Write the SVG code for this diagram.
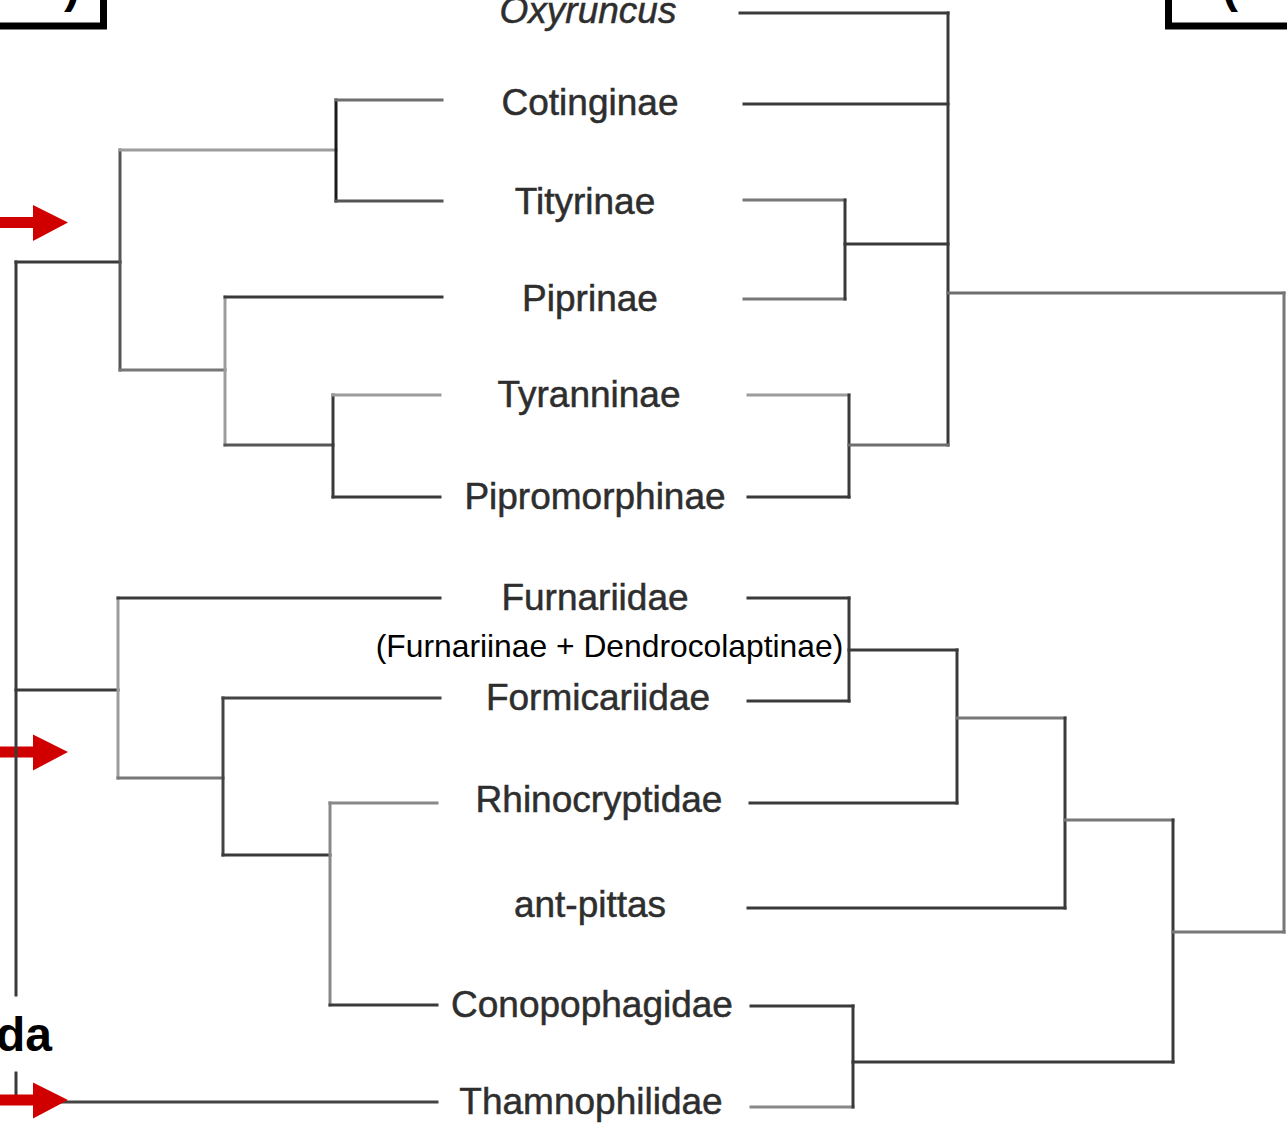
<svg xmlns="http://www.w3.org/2000/svg" xmlns:xlink="http://www.w3.org/1999/xlink" width="1287" height="1124" viewBox="0 0 1287 1124">
<style>
.bg{fill:#ffffff}
.box{fill:none;stroke:#000;stroke-width:7}
.big{font-family:"Liberation Sans",Arial,sans-serif;font-weight:bold;font-size:48px;fill:#000}
.lbl{font-family:"Liberation Sans",Arial,sans-serif;font-size:37px;fill:#2e2e2e;stroke:#2e2e2e;stroke-width:0.5;text-anchor:middle}
.it{font-style:italic}
.sub{font-family:"Liberation Sans",Arial,sans-serif;font-size:31.8px;fill:#000;text-anchor:middle}
.e{fill:none;stroke-width:3;stroke-linecap:square}
.d{stroke:#3a3a3a}
.m{stroke:#6e6e6e}
.l{stroke:#9c9c9c}
.arrow{fill:#d00000}
</style>
<defs>
<path id="arr" d="M-2,-5.5 H33 V-17.5 L68,0 L33,18.5 V5.5 H-2 Z"/>
</defs>
<rect class="bg" x="0" y="0" width="1287" height="1124"/>

<g id="frame-left">
<path class="box" d="M-5,26 H103.5 V-5"/>
<text class="big" x="80" y="2" text-anchor="end">)</text>
</g>
<g id="frame-right">
<path class="box" d="M1292,26 H1168.5 V-5"/>
<text class="big" x="1222" y="2">(</text>
</g>
<g id="title-da">
<text class="big" x="52" y="1051" text-anchor="end">da</text>
</g>

<g id="arrows-back" class="arrow">
<use href="#arr" xlink:href="#arr" transform="translate(0,222.5)"/>
<use href="#arr" xlink:href="#arr" transform="translate(0,752)"/>
</g>

<g id="connectors">
<!-- left tree -->
<path class="e d" d="M16,262 V995"/>
<path class="e d" d="M16,1073 V1102"/>
<path class="e d" d="M16,262 H120"/>
<path class="e" stroke="#555" d="M120,150 V370"/>
<path class="e l" d="M120,150 H336"/>
<path class="e" stroke="#1a1a1a" d="M336,100 V201"/>
<path class="e m" d="M336,100 H442"/>
<path class="e" stroke="#555" d="M336,201 H442"/>
<path class="e" stroke="#777" d="M120,370 H225"/>
<path class="e l" d="M225,297 V445"/>
<path class="e d" d="M225,297 H442"/>
<path class="e" stroke="#555" d="M225,445 H333"/>
<path class="e d" d="M333,395 V497"/>
<path class="e l" d="M333,395 H440"/>
<path class="e d" d="M333,497 H440"/>
<path class="e d" d="M16,690 H118"/>
<path class="e l" d="M118,598 V778"/>
<path class="e d" d="M118,598 H440"/>
<path class="e" stroke="#777" d="M118,778 H223"/>
<path class="e" stroke="#444" d="M223,698 V855"/>
<path class="e" stroke="#444" d="M223,698 H440"/>
<path class="e d" d="M223,855 H330"/>
<path class="e" stroke="#888" d="M330,803 V1005"/>
<path class="e" stroke="#888" d="M330,803 H437"/>
<path class="e d" d="M330,1005 H437"/>
<path class="e" stroke="#444" d="M16,1102 H437"/>
<!-- right tree -->
<path class="e d" d="M740,13 H948"/>
<path class="e d" d="M744,104 H948"/>
<path class="e d" d="M948,13 V445"/>
<path class="e" stroke="#777" d="M744,200 H845"/>
<path class="e" stroke="#777" d="M744,299 H845"/>
<path class="e d" d="M845,200 V299"/>
<path class="e d" d="M845,244 H948"/>
<path class="e m" d="M948,293 H1284"/>
<path class="e" stroke="#777" d="M1284,293 V932"/>
<path class="e l" d="M748,395 H849"/>
<path class="e d" d="M748,497 H849"/>
<path class="e d" d="M849,395 V497"/>
<path class="e m" d="M849,445 H948"/>
<path class="e d" d="M748,598 H849"/>
<path class="e d" d="M748,701 H849"/>
<path class="e d" d="M849,598 V701"/>
<path class="e d" d="M849,650 H957"/>
<path class="e d" d="M957,650 V803"/>
<path class="e d" d="M750,803 H957"/>
<path class="e" stroke="#777" d="M957,718 H1065"/>
<path class="e d" d="M1065,718 V908"/>
<path class="e d" d="M748,908 H1065"/>
<path class="e" stroke="#777" d="M1065,820 H1173"/>
<path class="e d" d="M1173,820 V1062"/>
<path class="e d" d="M751,1006 H853"/>
<path class="e" stroke="#888" d="M751,1107 H853"/>
<path class="e d" d="M853,1006 V1107"/>
<path class="e d" d="M853,1062 H1173"/>
<path class="e" stroke="#777" d="M1173,932 H1284"/>
</g>

<g id="arrows-front" class="arrow">
<use href="#arr" xlink:href="#arr" transform="translate(0,1100)"/>
</g>

<g id="node-oxyruncus"><text class="lbl it" x="588" y="23">Oxyruncus</text></g>
<g id="node-cotinginae"><text class="lbl" x="590" y="115">Cotinginae</text></g>
<g id="node-tityrinae"><text class="lbl" x="585" y="214">Tityrinae</text></g>
<g id="node-piprinae"><text class="lbl" x="590" y="311">Piprinae</text></g>
<g id="node-tyranninae"><text class="lbl" x="589" y="407">Tyranninae</text></g>
<g id="node-pipromorphinae"><text class="lbl" x="595" y="509">Pipromorphinae</text></g>
<g id="node-furnariidae"><text class="lbl" x="595" y="610">Furnariidae</text></g>
<g id="node-furnariidae-sub"><text class="sub" x="609.5" y="657">(Furnariinae + Dendrocolaptinae)</text></g>
<g id="node-formicariidae"><text class="lbl" x="598" y="710">Formicariidae</text></g>
<g id="node-rhinocryptidae"><text class="lbl" x="599" y="812">Rhinocryptidae</text></g>
<g id="node-ant-pittas"><text class="lbl" x="590" y="917">ant-pittas</text></g>
<g id="node-conopophagidae"><text class="lbl" x="592" y="1017">Conopophagidae</text></g>
<g id="node-thamnophilidae"><text class="lbl" x="591" y="1114">Thamnophilidae</text></g>
</svg>
